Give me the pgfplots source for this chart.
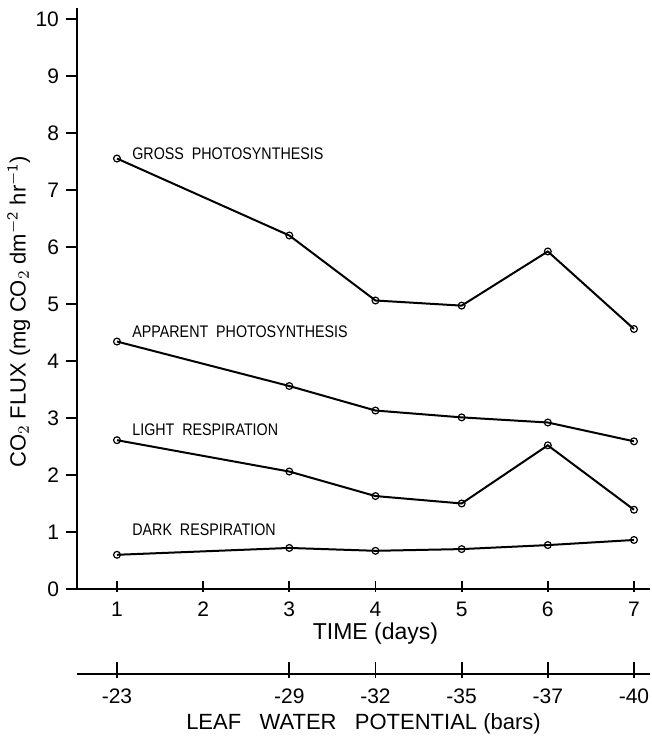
\documentclass[border=0pt]{standalone}
\usepackage{pgfplots}
\pgfplotsset{compat=1.18}
\usepackage{graphicx}
\usepackage{fontspec}
\setmainfont{Liberation Sans}
\begin{document}
\begin{tikzpicture}
\useasboundingbox (-38.5pt,-74.5pt) rectangle (287.5pt,294.5pt);
\begin{axis}[
  at={(0,0)}, anchor=south west,
  scale only axis, width=286.5pt, height=290.5pt,
  xmin=0.536, xmax=7.186, ymin=0, ymax=10.19,
  axis lines=left,
  axis line style={-, line width=1pt},
  every tick/.style={black, line width=0.9pt},
  major tick length=5.5pt,
  ytick={0,...,10},
  xtick={1,...,7},
  xtick align=center,
  ytick align=outside,
  xtick style={yshift=1.5pt},
  tick label style={font=\fontsize{10.5}{12}\selectfont},
  /pgf/number format/assume math mode=true,
  xticklabel style={yshift=0pt},
  yticklabel style={xshift=0pt},
  clip=false,
]
\addplot[black, line width=1pt, mark=o, mark options={fill=white, line width=0.6pt}, mark size=1.7pt]
  coordinates {(1,7.55)(3,6.20)(4,5.06)(5,4.97)(6,5.92)(7,4.56)};
\addplot[black, line width=1pt, mark=o, mark options={fill=white, line width=0.6pt}, mark size=1.7pt]
  coordinates {(1,4.34)(3,3.56)(4,3.13)(5,3.01)(6,2.92)(7,2.59)};
\addplot[black, line width=1pt, mark=o, mark options={fill=white, line width=0.6pt}, mark size=1.7pt]
  coordinates {(1,2.61)(3,2.06)(4,1.63)(5,1.50)(6,2.52)(7,1.39)};
\addplot[black, line width=1pt, mark=o, mark options={fill=white, line width=0.6pt}, mark size=1.7pt]
  coordinates {(1,0.60)(3,0.72)(4,0.67)(5,0.70)(6,0.77)(7,0.86)};
\begin{scope}[every node/.style={anchor=west, font=\fontsize{8.4}{10}\selectfont, inner sep=0pt}]
\node at (axis cs:1.174,7.63) {\scalebox{0.85}[1]{GROSS\ \ PHOTOSYNTHESIS}};
\node at (axis cs:1.174,4.51) {\scalebox{0.85}[1]{APPARENT\ \ PHOTOSYNTHESIS}};
\node at (axis cs:1.174,2.79) {\scalebox{0.85}[1]{LIGHT\ \ RESPIRATION}};
\node at (axis cs:1.174,1.04) {\scalebox{0.85}[1]{DARK\ \ RESPIRATION}};
\end{scope}
\node[rotate=90, font=\fontsize{11}{13}\selectfont] at (axis cs:-0.14,4.86)
  {CO$_2$ FLUX (mg CO$_2$ dm$^{\mathsf{-2}}$ hr$^{\mathsf{-1}}$)};
\node[font=\fontsize{11.5}{13}\selectfont] at (axis cs:4.0,0) [yshift=-22.5pt] {TIME (days)};
\end{axis}
\begin{axis}[
  at={(0,-42.5pt)}, anchor=south west,
  scale only axis, width=286.5pt, height=10pt,
  xmin=0.536, xmax=7.186, ymin=0, ymax=1,
  axis x line=bottom, axis y line=none,
  axis line style={-, line width=1pt},
  every tick/.style={black, line width=0.9pt},
  major tick length=8pt,
  xtick={1,3,4,5,6,7},
  xticklabels={-23,-29,-32,-35,-37,-40},
  xtick align=center,
  xtick style={yshift=2pt},
  tick label style={font=\fontsize{10.5}{12}\selectfont},
  xticklabel style={yshift=0pt},
  xlabel={LEAF\ \ \ WATER\ \ \ POTENTIAL (bars)},
  xlabel style={font=\fontsize{11}{13}\selectfont, yshift=2pt},
]
\addplot[draw=none] coordinates {(1,0)};
\end{axis}
\end{tikzpicture}
\end{document}
